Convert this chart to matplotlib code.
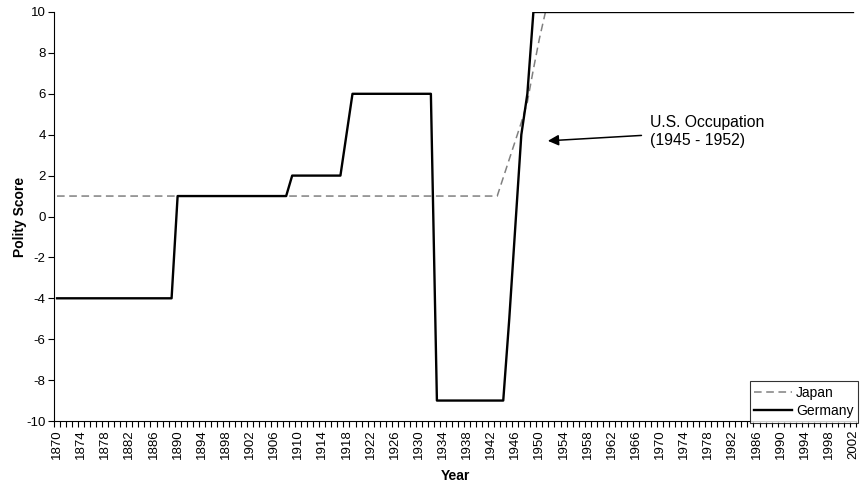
import matplotlib
matplotlib.use("Agg")
import matplotlib.pyplot as plt
from matplotlib.ticker import FixedLocator

plt.rcParams['font.family'] = ['Liberation Sans', 'DejaVu Sans']

years = list(range(1870, 2003))

germany = [
    -4, -4, -4, -4, -4, -4, -4, -4, -4, -4,   # 1870-1879
    -4, -4, -4, -4, -4, -4, -4, -4, -4, -4,   # 1880-1889
    1, 1, 1, 1, 1, 1, 1, 1, 1, 1,             # 1890-1899
    1, 1, 1, 1, 1, 1, 1, 1, 1, 2,             # 1900-1909
    2, 2, 2, 2, 2, 2, 2, 2, 4, 6,             # 1910-1919
    6, 6, 6, 6, 6, 6, 6, 6, 6, 6,             # 1920-1929
    6, 6, 6, -9, -9, -9, -9, -9, -9, -9,      # 1930-1939
    -9, -9, -9, -9, -9, -5, -0.5, 4, 6, 10,   # 1940-1949
    10, 10, 10, 10, 10, 10, 10, 10, 10, 10,   # 1950-1959
    10, 10, 10, 10, 10, 10, 10, 10, 10, 10,   # 1960-1969
    10, 10, 10, 10, 10, 10, 10, 10, 10, 10,   # 1970-1979
    10, 10, 10, 10, 10, 10, 10, 10, 10, 10,   # 1980-1989
    10, 10, 10, 10, 10, 10, 10, 10, 10, 10,   # 1990-1999
    10, 10, 10,                               # 2000-2002
]

japan = [
    1, 1, 1, 1, 1, 1, 1, 1, 1, 1,             # 1870-1879
    1, 1, 1, 1, 1, 1, 1, 1, 1, 1,             # 1880-1889
    1, 1, 1, 1, 1, 1, 1, 1, 1, 1,             # 1890-1899
    1, 1, 1, 1, 1, 1, 1, 1, 1, 1,             # 1900-1909
    1, 1, 1, 1, 1, 1, 1, 1, 1, 1,             # 1910-1919
    1, 1, 1, 1, 1, 1, 1, 1, 1, 1,             # 1920-1929
    1, 1, 1, 1, 1, 1, 1, 1, 1, 1,             # 1930-1939
    1, 1, 1, 1, 1.9, 2.8, 3.7, 4.6, 5.6, 7.2, # 1940-1949
    8.7, 10, 10, 10, 10, 10, 10, 10, 10, 10,  # 1950-1959
    10, 10, 10, 10, 10, 10, 10, 10, 10, 10,   # 1960-1969
    10, 10, 10, 10, 10, 10, 10, 10, 10, 10,   # 1970-1979
    10, 10, 10, 10, 10, 10, 10, 10, 10, 10,   # 1980-1989
    10, 10, 10, 10, 10, 10, 10, 10, 10, 10,   # 1990-1999
    10, 10, 10,                               # 2000-2002
]

label_years = years[::4]
y_ticks = [-10, -8, -6, -4, -2, 0, 2, 4, 6, 8, 10]

fig = plt.figure(figsize=(8.62, 4.84), dpi=100)
ax = fig.add_axes([54 / 862, 1 - 421 / 484, (856 - 54) / 862, (421 - 12) / 484])

ax.plot(years, japan, color='#808080', lw=1.1, linestyle=(0, (5, 3)), label='Japan')
ax.plot(years, germany, color='black', lw=1.7, label='Germany')

ax.set_xlim(1869.5, 2002.5)
ax.set_ylim(-10, 10)
ax.xaxis.set_major_locator(FixedLocator(label_years))
ax.xaxis.set_minor_locator(FixedLocator([y + 0.5 for y in range(1869, 2003)]))
ax.set_xticklabels([str(y) for y in label_years], rotation=90, fontsize=9.5)
ax.tick_params(axis='x', which='major', length=0, pad=6)
ax.tick_params(axis='x', which='minor', length=4, width=0.8, direction='out')
ax.set_yticks(y_ticks)
ax.set_yticklabels([str(v) for v in y_ticks], fontsize=9.5)
ax.tick_params(axis='y', length=4, width=0.8, direction='out', pad=2)

for s in ['top', 'right']:
    ax.spines[s].set_visible(False)
for s in ['left', 'bottom']:
    ax.spines[s].set_linewidth(0.8)

ax.set_ylabel('Polity Score', fontsize=10, fontweight='bold')
ax.yaxis.set_label_coords(-0.034, 0.5)
ax.set_xlabel('Year', fontsize=10, fontweight='bold', labelpad=7)

leg = ax.legend(loc='lower right', bbox_to_anchor=(1.003, -0.005), fontsize=10,
                frameon=True, fancybox=False, handlelength=2.7, borderpad=0.35,
                labelspacing=0.3, handletextpad=0.3, borderaxespad=0)
leg.get_frame().set_edgecolor('black')
leg.get_frame().set_linewidth(0.8)

ax.annotate('U.S. Occupation\n(1945 - 1952)', xy=(1951.4, 3.7), xytext=(1968.3, 4.15),
            fontsize=11.3, ha='left', va='center', linespacing=1.2,
            arrowprops=dict(arrowstyle='-|>', color='black', lw=1.1,
                            mutation_scale=16, shrinkA=4, shrinkB=0))

fig.savefig('out.png', dpi=100)
